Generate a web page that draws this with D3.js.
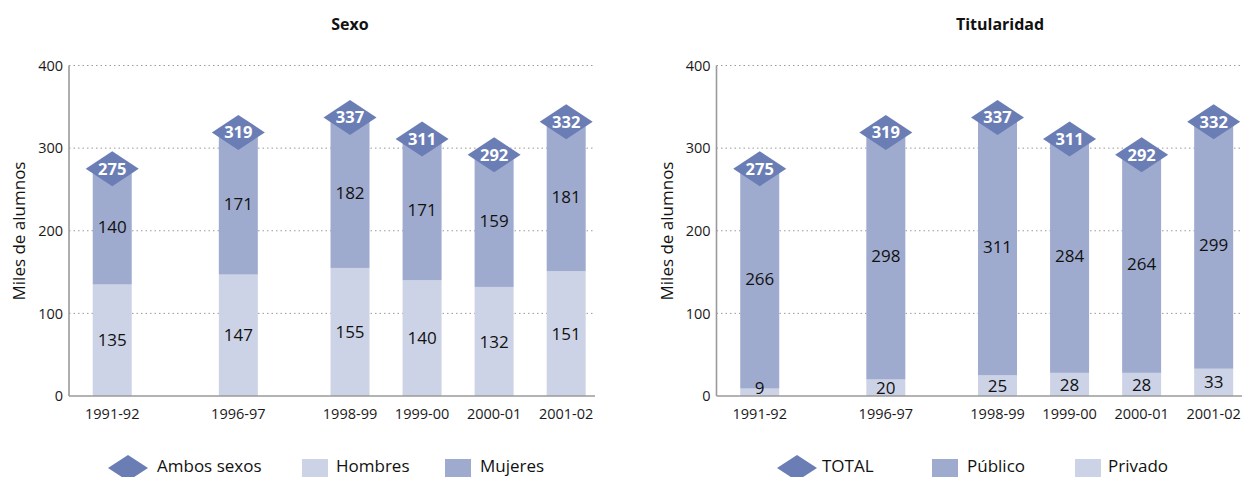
<!DOCTYPE html>
<html>
<head>
<meta charset="utf-8">
<script src="https://cdn.jsdelivr.net/npm/d3@7"></script>
<style>
  html, body { margin: 0; padding: 0; background: #fff; }
  svg { display: block; font-family: "Open Sans", "Noto Sans", sans-serif; }
</style>
</head>
<body>
<svg id="chart" width="1242" height="477"></svg>
<script>
// ---- data ----
const categories = ['1991-92', '1996-97', '1998-99', '1999-00', '2000-01', '2001-02'];
// relative position of each course along the axis (uneven spacing as in the source)
const xSlots = [0, 1.75, 3.3, 4.3, 5.3, 6.3];
const hombres = [135, 147, 155, 140, 132, 151];
const mujeres = [140, 171, 182, 171, 159, 181];
const ambosSexos = [275, 319, 337, 311, 292, 332];
const privado = [9, 20, 25, 28, 28, 33];
const publico = [266, 298, 311, 284, 264, 299];
const total = [275, 319, 337, 311, 292, 332];
const yTicks = [0, 100, 200, 300, 400];

const COL_DARK = '#9fabce';
const COL_LIGHT = '#cdd3e7';
const COL_DIAMOND = '#6a7db5';

const svg = d3.select('#chart');

function drawPanel(opts) {
  const g = svg.append('g').attr('transform', `translate(${opts.left},0)`);
  const width = 526, top = 65.5, bottom = 396;
  const x = d3.scaleLinear().domain([-0.6, 6.7]).range([0, width]);
  const y = d3.scaleLinear().domain([0, 400]).range([bottom, top]);

  // grid
  g.selectAll('line.grid').data(yTicks.filter(d => d > 0)).join('line')
    .attr('x1', 0).attr('x2', width)
    .attr('y1', d => y(d)).attr('y2', d => y(d))
    .attr('stroke', '#9a9a9a').attr('stroke-width', 1)
    .attr('stroke-dasharray', '1.5,3');

  // y axis
  const yAxis = d3.axisLeft(y).tickValues(yTicks).tickSize(0).tickPadding(6);
  const ya = g.append('g').call(yAxis);
  ya.select('.domain').remove();
  ya.selectAll('text').attr('font-size', 14.5).attr('fill', '#1a1a1a')
    .attr('font-family', '"Open Sans", sans-serif');
  g.append('line').attr('x1', 0).attr('x2', 0).attr('y1', top).attr('y2', bottom)
    .attr('stroke', '#9a9a9a').attr('stroke-width', 1.6);

  // bars
  const bw = 39;
  const rows = categories.map((c, i) => ({ c, i, lo: opts.lower[i], hi: opts.upper[i], tot: opts.totals[i] }));
  const bars = g.selectAll('g.bar').data(rows).join('g').attr('class', 'bar');
  bars.append('rect')
    .attr('x', d => x(xSlots[d.i]) - bw / 2).attr('width', bw)
    .attr('y', d => y(d.lo)).attr('height', d => y(0) - y(d.lo))
    .attr('fill', COL_LIGHT);
  bars.append('rect')
    .attr('x', d => x(xSlots[d.i]) - bw / 2).attr('width', bw)
    .attr('y', d => y(d.lo + d.hi)).attr('height', d => y(d.lo) - y(d.lo + d.hi))
    .attr('fill', COL_DARK);

  // x baseline
  g.append('line').attr('x1', 0).attr('x2', width).attr('y1', bottom).attr('y2', bottom)
    .attr('stroke', '#9a9a9a').attr('stroke-width', 1.6);

  // segment labels
  bars.append('text')
    .attr('x', d => x(xSlots[d.i]))
    .attr('y', d => Math.min((y(0) + y(d.lo)) / 2, y(0) - 8))
    .attr('dy', '0.36em').attr('text-anchor', 'middle')
    .attr('font-size', 17).attr('fill', '#111')
    .text(d => d.lo);
  bars.append('text')
    .attr('x', d => x(xSlots[d.i]))
    .attr('y', d => (y(d.lo) + y(d.lo + d.hi)) / 2)
    .attr('dy', '0.36em').attr('text-anchor', 'middle')
    .attr('font-size', 17).attr('fill', '#111')
    .text(d => d.hi);

  // diamonds
  const hw = 26.5, hh = 17.5;
  bars.append('path')
    .attr('d', d => {
      const cx = x(xSlots[d.i]), cy = y(d.tot);
      return `M${cx - hw},${cy}L${cx},${cy - hh}L${cx + hw},${cy}L${cx},${cy + hh}Z`;
    })
    .attr('fill', COL_DIAMOND);
  bars.append('text')
    .attr('x', d => x(xSlots[d.i]))
    .attr('y', d => y(d.tot))
    .attr('dy', '0.36em').attr('text-anchor', 'middle')
    .attr('font-size', 16.5).attr('font-weight', 'bold').attr('fill', '#fff')
    .text(d => d.tot);

  // x labels
  g.selectAll('text.xl').data(categories).join('text')
    .attr('class', 'xl')
    .attr('x', (d, i) => x(xSlots[i])).attr('y', 414)
    .attr('dy', '0.36em').attr('text-anchor', 'middle')
    .attr('font-size', 14.5).attr('fill', '#1a1a1a')
    .text(d => d);

  // title
  g.append('text').attr('x', opts.titleX).attr('y', 24).attr('dy', '0.36em')
    .attr('text-anchor', 'middle').attr('font-size', 16).attr('font-weight', 'bold')
    .attr('fill', '#111').text(opts.title);

  // y title
  g.append('text')
    .attr('transform', `translate(-50,231) rotate(-90)`)
    .attr('dy', '0.36em').attr('text-anchor', 'middle')
    .attr('font-size', 17).attr('fill', '#111')
    .text('Miles de alumnos');

  // legend
  const leg = g.append('g');
  const ly = 466;
  opts.legend.forEach(item => {
    if (item.type === 'diamond') {
      leg.append('path')
        .attr('d', `M${item.x},${ly + 2}L${item.x + 20},${ly - 11}L${item.x + 40},${ly + 2}L${item.x + 20},${ly + 15}Z`)
        .attr('fill', COL_DIAMOND);
    } else {
      leg.append('rect').attr('x', item.x).attr('y', 459).attr('width', 26).attr('height', 26)
        .attr('fill', item.color);
    }
    leg.append('text').attr('x', item.tx).attr('y', ly).attr('dy', '0.36em')
      .attr('font-size', 17).attr('fill', '#111').text(item.label);
  });
}

drawPanel({
  left: 69, title: 'Sexo', titleX: 281,
  lower: hombres, upper: mujeres, totals: ambosSexos,
  legend: [
    { type: 'diamond', x: 39, tx: 88, label: 'Ambos sexos' },
    { type: 'rect', x: 233, tx: 267, color: COL_LIGHT, label: 'Hombres' },
    { type: 'rect', x: 376, tx: 411, color: COL_DARK, label: 'Mujeres' }
  ]
});

drawPanel({
  left: 716.5, title: 'Titularidad', titleX: 283.5,
  lower: privado, upper: publico, totals: total,
  legend: [
    { type: 'diamond', x: 60.5, tx: 105.5, label: 'TOTAL' },
    { type: 'rect', x: 215.5, tx: 250.5, color: COL_DARK, label: 'Público' },
    { type: 'rect', x: 358.5, tx: 391.5, color: COL_LIGHT, label: 'Privado' }
  ]
});
</script>
</body>
</html>
